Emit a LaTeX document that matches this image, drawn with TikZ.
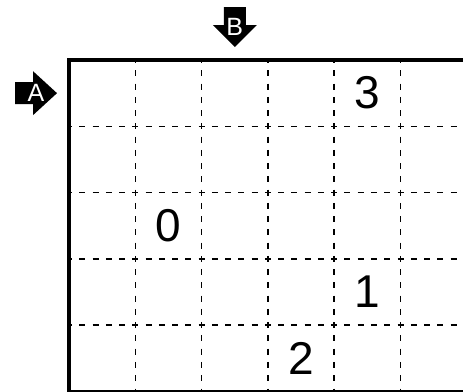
\documentclass[tikz,border=0pt]{standalone}
\usepackage{fontspec}
\setmainfont{Liberation Sans}
\usetikzlibrary{calc}
\begin{document}
\begin{tikzpicture}[x=1pt,y=-1pt,
  gridline/.style={line width=1.5pt,dash pattern=on 6pt off 7.26pt,dash phase=3pt},
  border/.style={line width=4pt,line join=miter},
  clue/.style={inner sep=0pt,font=\fontsize{46}{46}\selectfont},
  arrowlabel/.style={inner sep=0pt,text=white,font=\fontsize{25}{25}\selectfont},
  arrowbody/.style={fill=black}]
\useasboundingbox (0,0) rectangle (463,391);
\clip (0,0) rectangle (463,391);
\def\cs{66.3}
% dashed grid
\foreach \i in {1,...,5}
  \draw[gridline] (69+\i*\cs,60) -- (69+\i*\cs,395);
\foreach \j in {1,...,4}
  \draw[gridline] (69,60+\j*\cs) -- (470,60+\j*\cs);
% border
\draw[border] (69,60) rectangle (69+6*\cs,60+5*\cs);
% clues
\node[clue] (c3) at (69+4.5*\cs,60+0.5*\cs) {3};
\node[clue] (c0) at (69+1.5*\cs,60+2.5*\cs) {0};
\node[clue] (c1) at (69+4.5*\cs,60+3.5*\cs) {1};
\node[clue] (c2) at (69+3.5*\cs,60+4.5*\cs) {2};
% arrow A (pointing right)
\coordinate (pa) at (36,60+0.5*\cs);
\fill[arrowbody] ($(pa)+(-21,-11)$) -- ($(pa)+(-3,-11)$) -- ($(pa)+(-3,-22)$) -- ($(pa)+(21,0)$)
  -- ($(pa)+(-3,22)$) -- ($(pa)+(-3,11)$) -- ($(pa)+(-21,11)$) -- cycle;
\node[arrowlabel] (la) at (pa) {A};
% arrow B (pointing down)
\coordinate (pb) at (69+2.5*\cs,27);
\fill[arrowbody] ($(pb)+(-11,-20)$) -- ($(pb)+(11,-20)$) -- ($(pb)+(11,-2)$) -- ($(pb)+(22,-2)$)
  -- ($(pb)+(0,20)$) -- ($(pb)+(-22,-2)$) -- ($(pb)+(-11,-2)$) -- cycle;
\node[arrowlabel] (lb) at (pb) {B};
\end{tikzpicture}
\end{document}
